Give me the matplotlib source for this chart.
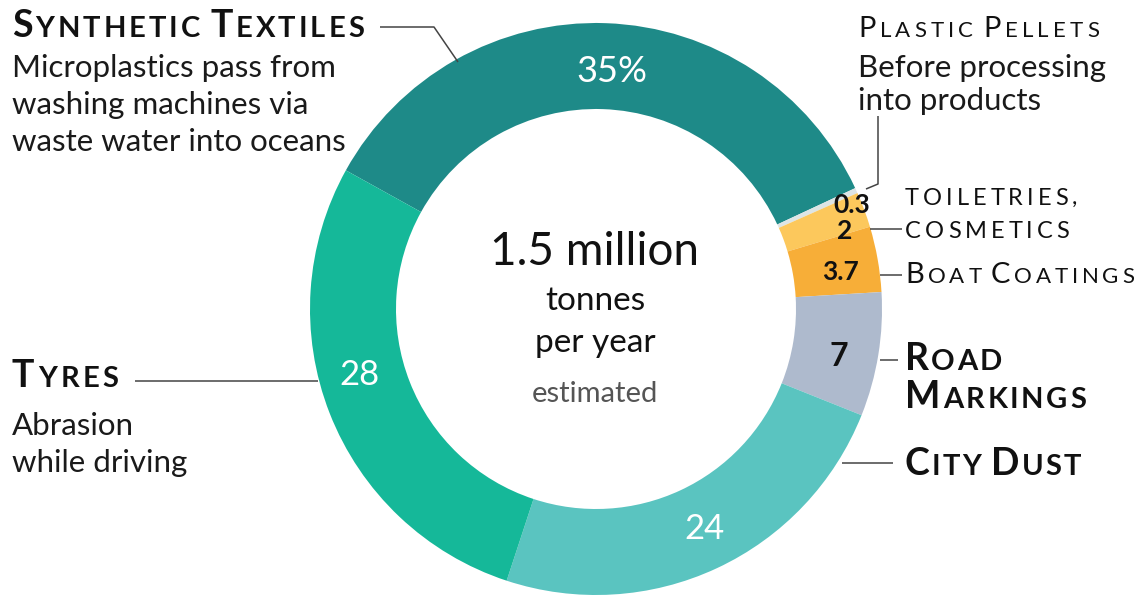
import matplotlib
matplotlib.use("Agg")
import matplotlib.pyplot as plt

W, H = 1148, 599

sources = ["Synthetic Textiles", "Plastic Pellets", "Toiletries, cosmetics",
           "Boat Coatings", "Road Markings", "City Dust", "Tyres"]
shares = [35, 0.3, 2, 3.7, 7, 24, 28]
share_labels = ["35%", "0.3", "2", "3.7", "7", "24", "28"]
colors = ["#1e8a88", "#dde5e5", "#fcc85c", "#f7ae38", "#aebacd", "#5ac4c0", "#15b899"]

plt.rcParams['font.family'] = ['Lato', 'DejaVu Sans']

fig = plt.figure(figsize=(W / 100, H / 100), dpi=100)
ax = fig.add_axes([0, 0, 1, 1])


def Y(y):
    # pixel row (from top) -> data y
    return H - y


cx, cy = 596, Y(309)
wedges, _ = ax.pie(shares, colors=colors, startangle=151, counterclock=False,
                   radius=286, center=(cx, cy),
                   wedgeprops=dict(width=86, linewidth=0))
ax.set_xlim(0, W)
ax.set_ylim(0, H)
ax.set_aspect('equal')
ax.axis('off')

rend = fig.canvas.get_renderer()
INK = "#111111"


def put(x, y, ch, size, weight, color):
    t = ax.text(x, Y(y), ch, fontsize=size, fontweight=weight,
                color=color, va='baseline', ha='left')
    return t.get_window_extent(rend).width


def smallcaps(x, y, text, big, small, weight="normal", color=INK, track=0.0, caps=True):
    # fake small caps: first letter of each word large, rest smaller, letter-spaced
    for word in text.split():
        for i, ch in enumerate(word):
            size = big if (i == 0 and caps) else small
            x += put(x, y, ch.upper(), size, weight, color) + track
        x += small * 0.36


def body(x, y, s, size=22.5, color="#1a1a1a", **kw):
    ax.text(x, Y(y), s, fontsize=size, color=color, va='baseline', ha='left', **kw)


def line(xs, ys):
    ax.plot(xs, [Y(v) for v in ys], color="#444444", lw=1.1, solid_capstyle='butt')


# value labels on the ring
label_pos = [(612, 71), (852, 205), (845, 231), (840, 272), (839, 357), (704, 529), (359, 375)]
label_style = [("white", "normal", 26), (INK, "bold", 19), (INK, "bold", 19),
               (INK, "bold", 19), (INK, "bold", 23), ("white", "normal", 25),
               ("white", "normal", 25)]
for lab, (lx, ly), (c, w, s) in zip(share_labels, label_pos, label_style):
    ax.text(lx, Y(ly), lab, color=c, fontweight=w, fontsize=s, ha='center', va='center')

# centre text
ax.text(594, Y(265), "1.5 million", fontsize=33, ha='center', va='baseline', color=INK)
ax.text(595, Y(310), "tonnes", fontsize=24, ha='center', va='baseline', color=INK)
ax.text(595, Y(352), "per year", fontsize=24, ha='center', va='baseline', color=INK)
ax.text(595, Y(402), "estimated", fontsize=21, ha='center', va='baseline', color="#555555")

# left side
smallcaps(12, 37, "Synthetic Textiles", 27, 21, weight="bold", track=3.0)
body(12, 77, "Microplastics pass from")
body(12, 114, "washing machines via")
body(12, 151, "waste water into oceans")
line([380, 434, 458], [27, 27, 62])

smallcaps(12, 387, "Tyres", 27, 21, weight="bold", track=3.5)
body(12, 435, "Abrasion")
body(12, 472, "while driving")
line([135, 318], [381, 381])

# right side
smallcaps(858, 37, "Plastic Pellets", 21, 16, track=4.2)
body(858, 77, "Before processing")
body(858, 110, "into products")
line([878, 878, 866], [116, 184, 189])

smallcaps(905, 205, "TOILETRIES,", 17, 17, track=4.0, caps=False)
smallcaps(905, 238, "COSMETICS", 17, 17, track=4.0, caps=False)
line([870, 902], [229, 229])

smallcaps(905, 283, "Boat Coatings", 21, 16, track=3.8)
line([880, 902], [275, 275])

smallcaps(905, 370, "Road", 27, 21, weight="bold", track=2.2)
smallcaps(905, 408, "Markings", 27, 21, weight="bold", track=2.6)
line([880, 898], [360, 360])

smallcaps(905, 475, "City Dust", 27, 21, weight="bold", track=2.2)
line([842, 893], [463, 463])

fig.savefig("out.png", dpi=100)
